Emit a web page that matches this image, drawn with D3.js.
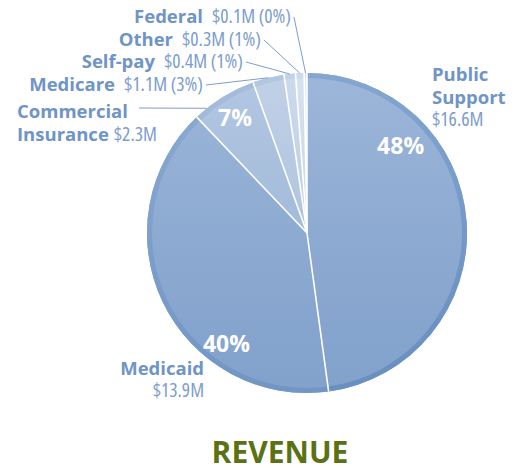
<!DOCTYPE html>
<html>
<head>
<meta charset="utf-8">
<script src="https://cdn.jsdelivr.net/npm/d3@7"></script>
<style>
  body { margin: 0; background: #fff; }
  .lab { font-family: "Open Sans", sans-serif; font-weight: 700; fill: #6f94c6; }
  .val { font-family: "Liberation Sans Narrow", "Open Sans", sans-serif; font-stretch: condensed; fill: #7d9dcc; }
  .pct { font-family: "Open Sans", sans-serif; font-weight: 700; fill: #fff; }
</style>
</head>
<body>
<svg id="chart" width="527" height="471"></svg>
<script>
// revenue by source, $M
const sources = ["Public Support", "Medicaid", "Commercial Insurance", "Medicare", "Self-pay", "Other", "Federal"]
const amounts = [16.6, 13.9, 2.3, 1.1, 0.4, 0.3, 0.1]
const amountLabels = ["$16.6M", "$13.9M", "$2.3M", "$1.1M", "$0.4M", "$0.3M", "$0.1M"]
const pctLabels = ["48%", "40%", "7%", "3%", "1%", "1%", "0%"]

const fills = ["#8dabd3", "#8dabd3", "#a6bedd", "#b6c9e3", "#c4d4e9", "#d0ddee", "#dce5f2"]
const rings = ["#7097c7", "#7b9fcb", "#98b2d6", "#a8bedd", "#b8cbe4", "#c6d5ea", "#d3dfef"]

let svg = d3.select("#chart")
let cx = 307, cy = 233, R = 160

let defs = svg.append("defs")
let grad = defs.append("linearGradient")
    .attr("id", "shade")
    .attr("x1", 0).attr("y1", 0).attr("x2", 0).attr("y2", 1)
grad.append("stop").attr("offset", "0%").attr("stop-color", "#fff").attr("stop-opacity", 0.14)
grad.append("stop").attr("offset", "100%").attr("stop-color", "#1d4a8a").attr("stop-opacity", 0.1)

let pie = d3.pie().sort(null).value(d => d)
let arcs = pie(amounts)
let arc = d3.arc().innerRadius(0).outerRadius(R)
let ringArc = d3.arc().innerRadius(R - 5).outerRadius(R)

let g = svg.append("g").attr("transform", "translate(" + cx + "," + cy + ")")

g.selectAll("path.slice")
    .data(arcs)
    .enter().append("path")
    .attr("class", "slice")
    .attr("d", arc)
    .attr("fill", (d, i) => fills[i])

g.selectAll("path.ring")
    .data(arcs)
    .enter().append("path")
    .attr("class", "ring")
    .attr("d", ringArc)
    .attr("fill", (d, i) => rings[i])

// shading over whole pie
g.append("circle")
    .attr("r", R)
    .attr("fill", "url(#shade)")

// white separators
g.selectAll("line.sep")
    .data(arcs)
    .enter().append("line")
    .attr("class", "sep")
    .attr("x1", 0).attr("y1", 0)
    .attr("x2", d => d3.pointRadial(d.startAngle, R)[0])
    .attr("y2", d => d3.pointRadial(d.startAngle, R)[1])
    .attr("stroke", "#fff")
    .attr("stroke-width", 1.6)

// percent labels inside the big slices: [angle deg, radius]
const pctPos = { 0: [47, 128], 1: [216, 137], 2: [328, 136] }
Object.keys(pctPos).forEach(i => {
    let p = d3.pointRadial(pctPos[i][0] * Math.PI / 180, pctPos[i][1])
    g.append("text")
        .attr("class", "pct")
        .attr("x", p[0]).attr("y", p[1] + 8)
        .attr("text-anchor", "middle")
        .style("font-size", "23px")
        .text(pctLabels[i])
})

// outside labels with leader lines: label end x, baseline y
const callouts = [
    { i: 6, x: 203, y: 23 },
    { i: 5, x: 173, y: 46 },
    { i: 4, x: 155, y: 68 },
    { i: 3, x: 115, y: 91 }
]
callouts.forEach(c => {
    svg.append("text").attr("class", "lab")
        .attr("x", c.x).attr("y", c.y)
        .attr("text-anchor", "end")
        .style("font-size", "18.5px").text(sources[c.i])
    let v = svg.append("text")
        .attr("class", "val")
        .attr("x", c.x + 9).attr("y", c.y)
        .style("font-size", "19.5px")
        .text(amountLabels[c.i] + " (" + pctLabels[c.i] + ")")
    let w = v.node().getComputedTextLength()
    let a = arcs[c.i]
    let end = d3.pointRadial((a.startAngle + a.endAngle) / 2, R)
    svg.append("line")
        .attr("x1", c.x + 9 + w + 3).attr("y1", c.y - 6)
        .attr("x2", cx + end[0]).attr("y2", cy + end[1])
        .attr("stroke", "#7d9dcc").attr("stroke-width", 1)
})

// commercial insurance, two lines
svg.append("text").attr("class", "lab").attr("x", 17).attr("y", 118)
    .style("font-size", "18.5px").text("Commercial")
let ins = svg.append("text").attr("x", 17).attr("y", 141)
ins.append("tspan").attr("class", "lab").style("font-size", "18.5px").text("Insurance")
ins.append("tspan").attr("class", "val").attr("dx", 5).style("font-size", "19.5px").text(amountLabels[2])
{
    let a = arcs[2]
    let end = d3.pointRadial(a.startAngle + (a.endAngle - a.startAngle) * 0.2, R)
    svg.append("line")
        .attr("x1", 139).attr("y1", 108)
        .attr("x2", cx + end[0]).attr("y2", cy + end[1])
        .attr("stroke", "#7d9dcc").attr("stroke-width", 1)
}

// public support
svg.append("text").attr("class", "lab").attr("x", 432).attr("y", 81)
    .style("font-size", "18.5px").text("Public")
svg.append("text").attr("class", "lab").attr("x", 432).attr("y", 104)
    .style("font-size", "18.5px").text("Support")
svg.append("text").attr("class", "val").attr("x", 432).attr("y", 126)
    .style("font-size", "19.5px").text(amountLabels[0])

// medicaid
svg.append("text").attr("class", "lab").attr("x", 204).attr("y", 375)
    .attr("text-anchor", "end").style("font-size", "18.5px").text(sources[1])
svg.append("text").attr("class", "val").attr("x", 204).attr("y", 397)
    .attr("text-anchor", "end").style("font-size", "19.5px").text(amountLabels[1])

svg.append("text")
    .attr("x", 280).attr("y", 463)
    .attr("text-anchor", "middle")
    .style("font-family", "Open Sans, sans-serif")
    .style("font-weight", 700)
    .style("font-size", "30px")
    .attr("fill", "#5b7214")
    .text("REVENUE")
</script>
</body>
</html>
